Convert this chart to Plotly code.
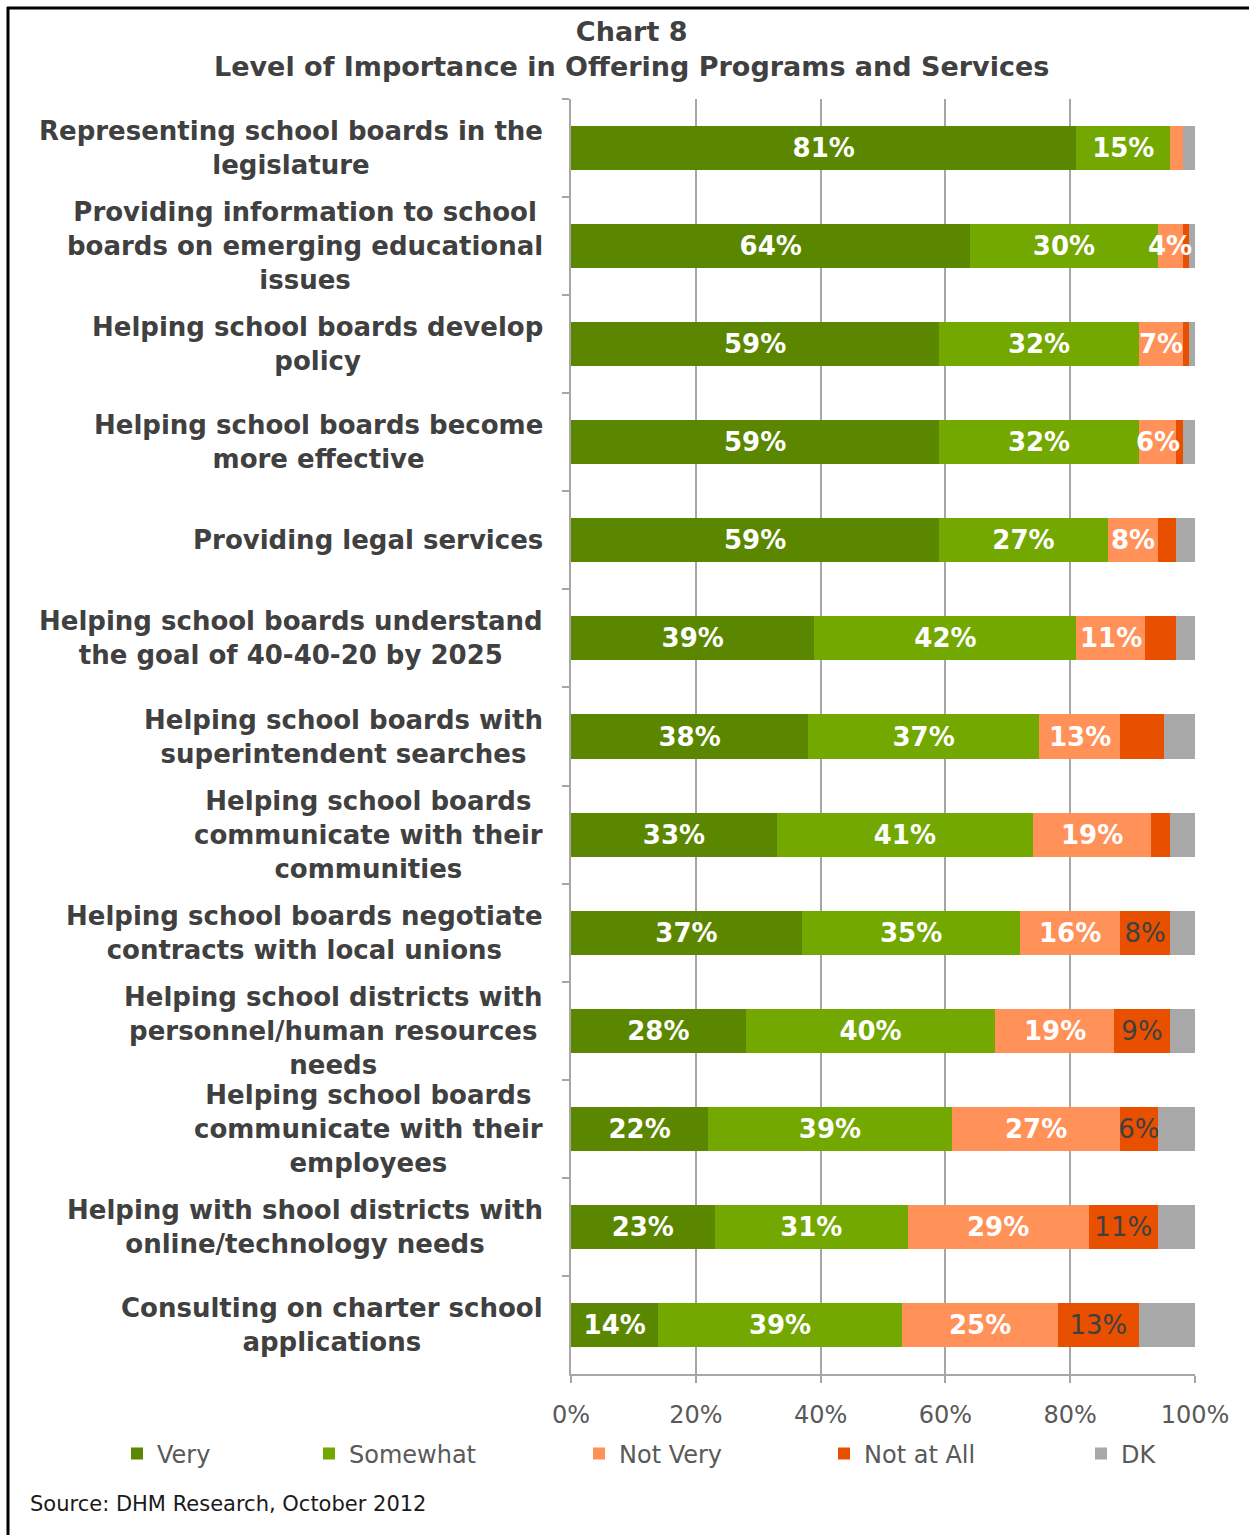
import plotly.graph_objects as go

categories = [
    "Representing school boards in the<br>legislature",
    "Providing information to school<br>boards on emerging educational<br>issues",
    "Helping school boards develop<br>policy",
    "Helping school boards become<br>more effective",
    "Providing legal services",
    "Helping school boards understand<br>the goal of 40-40-20 by 2025",
    "Helping school boards with<br>superintendent searches",
    "Helping school boards<br>communicate with their<br>communities",
    "Helping school boards negotiate<br>contracts with local unions",
    "Helping school districts with<br>personnel/human resources<br>needs",
    "Helping school boards<br>communicate with their<br>employees",
    "Helping with shool districts with<br>online/technology needs",
    "Consulting on charter school<br>applications",
]

very = [81, 64, 59, 59, 59, 39, 38, 33, 37, 28, 22, 23, 14]
somewhat = [15, 30, 32, 32, 27, 42, 37, 41, 35, 40, 39, 31, 39]
not_very = [2, 4, 7, 6, 8, 11, 13, 19, 16, 19, 27, 29, 25]
not_at_all = [0, 1, 1, 1, 3, 5, 7, 3, 8, 9, 6, 11, 13]
dk = [2, 1, 1, 2, 3, 3, 5, 4, 4, 4, 6, 6, 9]

series_names = ["Very", "Somewhat", "Not Very", "Not at All", "DK"]
colors = ["#5B8700", "#72A800", "#FF9159", "#E85000", "#A8A8A8"]

tick_vals = [0, 20, 40, 60, 80, 100]
tick_text = ["0%", "20%", "40%", "60%", "80%", "100%"]

# which data labels are printed in the original
labels_very = [f"{v}%" for v in very]
labels_somewhat = [f"{v}%" for v in somewhat]
labels_not_very = [f"{v}%" if v >= 3 else "" for v in not_very]
labels_not_at_all = [f"{v}%" if i >= 8 else "" for i, v in enumerate(not_at_all)]
labels_dk = ["" for _ in dk]

values = [very, somewhat, not_very, not_at_all, dk]
texts = [labels_very, labels_somewhat, [""] * len(not_very), labels_not_at_all, labels_dk]
legend_widths = [147, 225, 200, 212, 50]

FONT = "DejaVu Sans"
DARK = "#404040"

fig = go.Figure()
for i, (name, vals, txt, col) in enumerate(zip(series_names, values, texts, colors)):
    label_font = dict(family=FONT, size=26, color="white", weight="bold") if i < 3 else \
        dict(family=FONT, size=26, color=DARK)
    fig.add_trace(go.Bar(
        y=categories, x=vals, orientation="h", name=name,
        marker=dict(color=col, line=dict(width=0)),
        text=txt, textposition="inside", insidetextanchor="middle",
        insidetextfont=label_font, textangle=0, constraintext="none",
        legendwidth=legend_widths[i], hoverinfo="name+x",
    ))

W, H = 1249, 1535
L, R, T, B = 571, 54, 99, 161
pw, ph = W - L - R, H - T - B

def px_x(p):
    return (p - L) / pw

def px_y(p):
    return (H - B - p) / ph

annotations = []
# "Not Very" labels drawn on top so they may overflow their segment as in the original
for c, v, s, n, lab in zip(categories, very, somewhat, not_very, labels_not_very):
    if lab:
        annotations.append(dict(
            x=v + s + n / 2, xref="x", y=c, yref="y", text=f"<b>{lab}</b>",
            showarrow=False, xanchor="center", yanchor="middle", yshift=0,
            font=dict(family=FONT, size=26, color="white"),
        ))
for c in categories:
    annotations.append(dict(
        x=px_x(545), xref="paper", y=c, yref="y", text=f"<b>{c}</b>",
        showarrow=False, xanchor="right", yanchor="middle", align="center",
        font=dict(family=FONT, size=26, color=DARK),
    ))
annotations.append(dict(
    x=px_x(631), xref="paper", y=px_y(49), yref="paper",
    text="<b>Chart 8</b><br><b>Level of Importance in Offering Programs and Services</b>",
    showarrow=False, xanchor="center", yanchor="middle", align="center",
    font=dict(family=FONT, size=27, color=DARK),
))
annotations.append(dict(
    x=px_x(28), xref="paper", y=px_y(1504), yref="paper",
    text="Source: DHM Research, October 2012", showarrow=False,
    xanchor="left", yanchor="middle", font=dict(family=FONT, size=21, color="#1a1a1a"),
))

shapes = [
    dict(type="line", xref="paper", yref="paper", x0=px_x(7), x1=px_x(1249),
         y0=px_y(8), y1=px_y(8), line=dict(color="black", width=3)),
    dict(type="line", xref="paper", yref="paper", x0=px_x(8), x1=px_x(8),
         y0=px_y(7), y1=px_y(1535), line=dict(color="black", width=3)),
]

fig.update_layout(
    width=W, height=H, margin=dict(l=L, r=R, t=T, b=B, autoexpand=False),
    paper_bgcolor="white", plot_bgcolor="white",
    barmode="stack", bargap=0.55,
    xaxis=dict(
        range=[0, 100], tickvals=tick_vals, ticktext=tick_text,
        showgrid=True, gridcolor="#A6A6A6", gridwidth=2,
        showline=True, linecolor="#A6A6A6", linewidth=2,
        ticks="outside", ticklen=7, tickcolor="#A6A6A6", tickwidth=2,
        tickfont=dict(family=FONT, size=24, color="#595959"),
        ticklabelstandoff=11, zeroline=False, fixedrange=True,
    ),
    yaxis=dict(
        range=[len(categories) - 0.5, -0.5], autorange=False, showticklabels=False,
        showline=True, linecolor="#A6A6A6", linewidth=2,
        ticks="outside", tickson="boundaries", ticklen=7,
        tickcolor="#A6A6A6", tickwidth=2, showgrid=False, fixedrange=True,
    ),
    legend=dict(
        orientation="h", xref="paper", yref="paper",
        x=px_x(117), xanchor="left", y=px_y(1454), yanchor="middle",
        font=dict(family=FONT, size=24, color="#595959"),
        traceorder="normal", bgcolor="rgba(0,0,0,0)",
    ),
    annotations=annotations, shapes=shapes, showlegend=True,
)

fig.write_html("out.html")
